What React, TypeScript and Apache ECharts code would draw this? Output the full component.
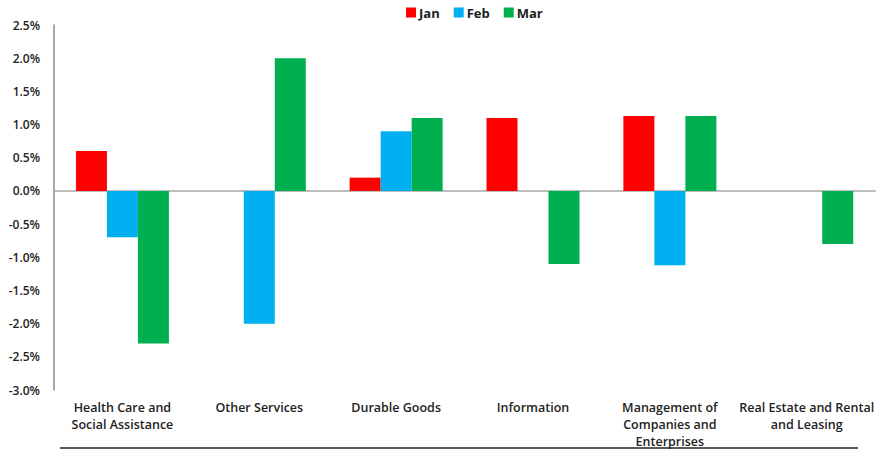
import React, { useEffect, useRef } from "react";
import * as echarts from "echarts";

const categories = [
  "Health Care and\nSocial Assistance",
  "Other Services",
  "Durable Goods",
  "Information",
  "Management of\nCompanies and\nEnterprises",
  "Real Estate and Rental\nand Leasing",
];
const seriesNames = ["Jan", "Feb", "Mar"];
const janValues = [0.6, 0, 0.2, 1.1, 1.13, 0];
const febValues = [-0.7, -2.0, 0.9, 0, -1.12, 0];
const marValues = [-2.3, 2.0, 1.1, -1.1, 1.13, -0.8];
const colors = ["#FF0000", "#00B0F0", "#00B050"];

export default function App() {
  const ref = useRef<HTMLDivElement>(null);
  useEffect(() => {
    if (!ref.current) return;
    const chart = echarts.init(ref.current, null, { renderer: "svg" });
    const font = "'Open Sans', 'Noto Sans', sans-serif";
    const values = [janValues, febValues, marValues];
    chart.setOption({
      animation: false,
      textStyle: { fontFamily: font },
      legend: {
        top: 1,
        left: 401,
        itemWidth: 10,
        itemHeight: 10,
        itemGap: 14,
        icon: "rect",
        data: seriesNames,
        textStyle: { fontSize: 13, fontWeight: 700, color: "#222", fontFamily: font, padding: [0, 0, 0, -2] },
      },
      grid: { left: 54, right: 0, top: 25, bottom: 54, containLabel: false },
      xAxis: [
        {
          type: "category",
          data: categories,
          position: "bottom",
          axisLine: { show: false, onZero: false },
          axisTick: { show: false },
          axisLabel: {
            margin: 9,
            fontSize: 12.5,
            fontWeight: 600,
            color: "#222",
            lineHeight: 17,
            interval: 0,
            fontFamily: font,
          },
        },
        {
          type: "category",
          data: categories,
          position: "bottom",
          axisLine: { show: true, onZero: true, lineStyle: { color: "#a6a6a6", width: 1.5 } },
          axisTick: { show: false },
          axisLabel: { show: false },
        },
      ],
      yAxis: {
        type: "value",
        min: -3,
        max: 2.5,
        interval: 0.5,
        splitLine: { show: false },
        axisLine: { show: true, lineStyle: { color: "#8c8c8c", width: 1.5 } },
        axisTick: { show: false },
        axisLabel: {
          margin: 14,
          fontSize: 12,
          fontWeight: 600,
          color: "#222",
          fontFamily: font,
          formatter: (v: number) => v.toFixed(1) + "%",
        },
      },
      series: seriesNames.map((name, i) => ({
        name,
        type: "bar",
        data: values[i],
        barWidth: 31,
        barGap: "0%",
        itemStyle: { color: colors[i] },
      })),
      graphic: [
        {
          type: "line",
          shape: { x1: 60, y1: 448, x2: 858, y2: 448 },
          style: { stroke: "#222", lineWidth: 1.5 },
          z: 100,
        },
      ],
    });
    return () => chart.dispose();
  }, []);
  return (
    <div
      ref={ref}
      style={{ position: "fixed", left: 0, top: 0, width: 877, height: 450, background: "#fff" }}
    />
  );
}
